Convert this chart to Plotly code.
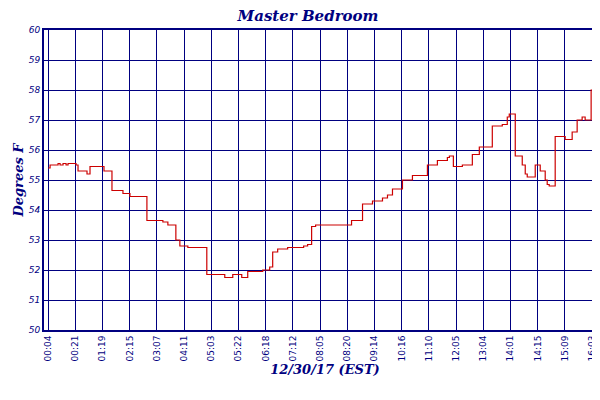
import plotly.graph_objects as go

tick_labels = ["00:04","00:21","01:19","02:15","03:07","04:11","05:03","05:22","06:18","07:12",
               "08:05","08:20","09:14","10:16","11:10","12:05","13:04","14:01","14:15","15:09","16:03","16:11"]
tick_pos = list(range(21)) + [20.4]

# sample positions (in tick-index units) and temperatures
px = [40,42,46,50,52,55,58,60,63,68,70,75,79,82,90,95,96,103,104,115,122,138,139,155,160,163,168,172,180,197,199,
      215,217,225,232,234,240,255,262,265,270,280,296,300,304,308,340,344,355,365,375,380,385,395,405,420,430,440,442,
      446,455,465,472,485,495,500,502,508,515,518,520,528,533,538,540,542,548,558,560,565,570,575,578,584,594,598]
temps = [55.4,55.5,55.5,55.55,55.5,55.55,55.5,55.55,55.55,55.5,55.3,55.3,55.2,55.45,55.45,55.45,55.3,55.3,54.65,54.55,54.45,54.45,
         53.65,53.6,53.5,53.5,53.0,52.8,52.75,52.75,51.85,51.85,51.75,51.85,51.85,51.75,51.95,52.0,52.1,52.6,52.7,52.75,52.8,52.85,
         53.45,53.5,53.5,53.65,54.2,54.3,54.4,54.5,54.7,55.0,55.15,55.5,55.65,55.75,55.8,55.45,55.5,55.85,56.1,56.8,56.85,57.1,57.2,
         55.8,55.5,55.2,55.1,55.5,55.3,55.0,54.85,54.8,56.45,56.35,56.35,56.6,57.0,57.1,57.0,58.0,58.25,58.3]
n = min(len(px), len(temps))
xs = [(p - 40) / 27.25 for p in px[:n]]
ys = temps[:n]

navy = "#000080"
fig = go.Figure(go.Scatter(x=xs, y=ys, mode="lines", line=dict(color="#cc0000", width=1.2, shape="hv"),
                           name="<b><i>Master Bedroom</i></b>"))
fig.update_layout(
    width=600, height=400, margin=dict(l=36, r=2, t=22, b=78, autoexpand=False),
    paper_bgcolor="white", plot_bgcolor="white",
    title=dict(text="<b><i>Master Bedroom</i></b>", x=0.5, xanchor="center", y=0.995, yanchor="top",
               font=dict(family="DejaVu Serif", size=15, color=navy)),
    showlegend=True,
    legend=dict(orientation="h", x=0.5, xanchor="center", y=-0.215, yanchor="top",
                font=dict(family="DejaVu Serif", size=12, color=navy)),
    font=dict(family="DejaVu Sans", color=navy),
)
fig.update_xaxes(range=[-0.15, 20.51], tickvals=tick_pos, ticktext=tick_labels, tickangle=-90, automargin=False,
                 tickfont=dict(size=9, color=navy), showgrid=True, gridcolor=navy, gridwidth=1,
                 showline=True, linecolor=navy, linewidth=2, mirror=True, zeroline=False, ticks="",
                 title=dict(text="<b><i>12/30/17 (EST)</i></b>", font=dict(family="DejaVu Serif", size=13, color=navy), standoff=4))
fig.update_yaxes(range=[50, 60], dtick=1, tickfont=dict(size=9, color=navy), showgrid=True, gridcolor=navy, gridwidth=1,
                 showline=True, linecolor=navy, linewidth=2, mirror=True, zeroline=False, ticks="", automargin=False,
                 tickprefix="<i>", ticksuffix="</i>",
                 title=dict(text="<b><i>Degrees F</i></b>", font=dict(family="DejaVu Serif", size=13, color=navy), standoff=2))
fig.write_html("out.html")
